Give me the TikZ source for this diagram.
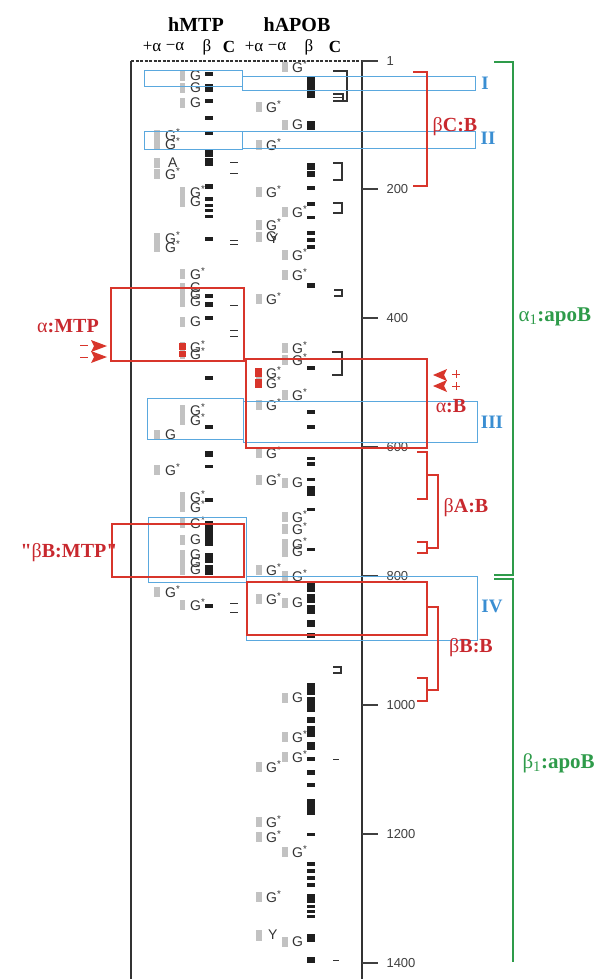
\documentclass[tikz,border=0pt]{standalone}
\usepackage{fontspec}
\setmainfont{Liberation Serif}
\setsansfont{Liberation Sans}
\newfontfamily\qserif[Ligatures=TeXOff]{Liberation Serif}
\definecolor{myred}{HTML}{D8352B}
\definecolor{redtxt}{HTML}{C8282E}
\definecolor{myblue}{HTML}{5AA8DE}
\definecolor{bluetxt}{HTML}{3A8ED2}
\definecolor{mygreen}{HTML}{2E9B4A}
\newcommand{\Gs}{G\textsuperscript{*}}
\newcommand{\sq}{{\qserif\bfseries "}}
\begin{document}
\begin{tikzpicture}[x=1pt,y=-1pt,
  glab/.style={font=\sffamily\fontsize{14}{14}\selectfont, anchor=west, inner sep=0pt, text=black!80},
  gbar/.style={fill=black!24},
  blk/.style={fill=black!88},
  cmark/.style={draw=black!80, line width=1.1pt},
  hdr/.style={font=\bfseries\fontsize{20}{20}\selectfont},
  subhdr/.style={font=\fontsize{17}{17}\selectfont},
  redlab/.style={font=\bfseries\fontsize{20}{20}\selectfont, text=redtxt},
  bluelab/.style={font=\bfseries\fontsize{19}{19}\selectfont, text=bluetxt},
  greenlab/.style={font=\bfseries\fontsize{21}{21}\selectfont, text=mygreen, anchor=west},
  ticklab/.style={font=\sffamily\fontsize{13}{13}\selectfont, anchor=west, text=black!75},
  frame/.style={draw=black!80, line width=1.3pt},
  tickline/.style={draw=black!75, line width=1.2pt},
  redbox/.style={draw=myred, line width=1.2pt},
  bluebox/.style={draw=myblue, line width=0.9pt},
  redbr/.style={draw=myred, line width=1.1pt},
  greenbr/.style={draw=mygreen, line width=2pt}
]
\useasboundingbox (0,0) rectangle (603,979);

% headers
\node[hdr] (hmtp) at (196,25) {hMTP};
\node[hdr] (hapob) at (297,25) {hAPOB};
\node[subhdr] (s1) at (152,47) {+α};
\node[subhdr] (s2) at (175,47) {−α};
\node[subhdr] (s3) at (207,47) {β};
\node[subhdr] (s4) at (229,47) {\bfseries C};
\node[subhdr] (s5) at (254,47) {+α};
\node[subhdr] (s6) at (277,47) {−α};
\node[subhdr] (s7) at (309,47) {β};
\node[subhdr] (s8) at (335,47) {\bfseries C};

% frame and axis
\draw[frame] (131,61) -- (131,979);
\draw[frame] (362,61) -- (362,979);
\draw[frame, dash pattern=on 3pt off 1.5pt] (131,61) -- (362,61);
\foreach \v/\yy in {1/61,200/189,400/318,600/447,800/576,1000/705,1200/834,1400/963}{
  \draw[tickline] (362,\yy) -- (378,\yy);
  \node[ticklab] (t\v) at (383,\yy) {\v};
}

% gray bars + G labels, hMTP right column
\foreach \yy/\t in {76/G,88/G,103/G,192/\Gs,202/G,274/\Gs,288/G,295/G,302/G,322/G,347/\Gs,354/\Gs,410/\Gs,420/\Gs,497/\Gs,507/\Gs,523/\Gs,540/G,555/G,563/G,570/G,605/\Gs}{
  \fill[gbar] (180,\yy-5) rectangle (185,\yy+5);
  \node[glab] (ma\yy) at (190,\yy) {\t};
}
% hMTP left column
\foreach \yy/\t in {135/\Gs,144/\Gs,174/\Gs,238/\Gs,247/\Gs,435/G,470/\Gs,592/\Gs}{
  \fill[gbar] (154,\yy-5) rectangle (160,\yy+5);
  \node[glab] (mb\yy) at (165,\yy) {\t};
}
\fill[gbar] (154,158) rectangle (160,168);
\node[glab] (mA) at (168,163) {A};
% hAPOB left column
\foreach \yy/\t in {107/\Gs,145/\Gs,192/\Gs,225/\Gs,237/G,299/\Gs,373/\Gs,383/\Gs,405/\Gs,453/\Gs,480/\Gs,570/\Gs,599/\Gs,767/\Gs,822/\Gs,837/\Gs,897/\Gs}{
  \fill[gbar] (256,\yy-5) rectangle (262,\yy+5);
  \node[glab] (aa\yy) at (266,\yy) {\t};
}
\node[glab] (aY1) at (269,239) {Y};
\fill[gbar] (256,930) rectangle (262,941);
\node[glab] (aY2) at (268,935) {Y};
% hAPOB right column
\foreach \yy/\t in {67/\Gs,125/G,212/\Gs,255/\Gs,275/\Gs,348/\Gs,360/\Gs,395/\Gs,483/G,517/\Gs,529/\Gs,544/\Gs,552/G,576/\Gs,603/G,698/G,737/\Gs,757/\Gs,852/\Gs,942/G}{
  \fill[gbar] (282,\yy-5) rectangle (288,\yy+5);
  \node[glab] (ab\yy) at (292,\yy) {\t};
}

% black marks hMTP beta
\foreach \a/\b in {72/76,84/92,99/103,116/120,131/135,149/157,158/166,184/189,197/201,204/207,209/212,215/218,237/241,294/298,302/307,316/320,376/380,425/429,451/457,465/468,498/502,521/546,553/563,565/575,604/608}{
  \fill[blk] (205,\a) rectangle (212.5,\b);
}
% hMTP C column
\foreach \yy in {162,173,240,244,305,330,336,582,603,612}{
  \draw[cmark, line width=0.9pt] (230,\yy) -- (238,\yy);
}
% black marks hAPOB beta
\foreach \a/\b in {77/98,121/130,163/170,171/177,186/190,202/206,216/219,231/235,238/242,245/249,283/288,366/370,410/414,425/429,457/460,462/466,478/481,486/496,508/511,548/551,583/592,594/603,605/614,620/627,633/638,683/695,697/712,717/723,726/737,742/750,757/761,770/775,783/787,799/815,833/836,862/866,869/873,876/880,883/887,894/903,905/908,910/913,915/918,934/942,957/963}{
  \fill[blk] (307,\a) rectangle (314.5,\b);
}
% hAPOB C column
\draw[cmark] (333,71) -- (347,71) -- (347,101) -- (333,101);
\draw[cmark] (333,94) -- (343,94) -- (343,101);
\draw[cmark] (333,97.5) -- (343,97.5);
\draw[cmark] (333,163) -- (342,163) -- (342,180) -- (333,180);
\draw[cmark] (333,203) -- (342,203) -- (342,213) -- (333,213);
\draw[cmark] (334,290) -- (342,290) -- (342,296) -- (334,296);
\draw[cmark] (332,352) -- (342,352) -- (342,375) -- (332,375);
\draw[cmark] (333,667) -- (341,667) -- (341,673) -- (333,673);
\draw[cmark, line width=0.9pt] (333,759) -- (339,759);
\draw[cmark, line width=0.9pt] (333,960) -- (339,960);

% red squares
\fill[myred] (179,343) rectangle (186,349.5);
\fill[myred] (179,350.5) rectangle (186,357);
\fill[myred] (255,368) rectangle (262,377);
\fill[myred] (255,378.5) rectangle (262,388);

% blue boxes
\draw[bluebox] (144,70) rectangle (242,86);
\draw[bluebox] (242,76) rectangle (475,90);
\draw[bluebox] (144,131) rectangle (242,149);
\draw[bluebox] (242,131) rectangle (475,148);
\draw[bluebox] (147,398) rectangle (243,439);
\draw[bluebox] (243,401) rectangle (477,442);
\draw[bluebox] (148,517) rectangle (246,582);
\draw[bluebox] (246,576) rectangle (477,640);
\node[bluelab] (lI) at (485,83) {I};
\node[bluelab] (lII) at (488,138) {II};
\node[bluelab] (lIII) at (492,422) {III};
\node[bluelab] (lIV) at (492,606) {IV};

% red boxes
\draw[redbox] (111,288) rectangle (244,361);
\draw[redbox] (246,359) rectangle (427,448);
\draw[redbox] (112,524) rectangle (244,577);
\draw[redbox] (247,582) rectangle (427,635);
\node[redlab] (lamtp) at (68,326) {{\mdseries α}:MTP};
\node[redlab] (lbbmtp) at (69,553) {\sq{\mdseries β}B:MTP\sq};
\node[redlab] (lab) at (451,406) {{\mdseries α}:B};
\node[redlab] (lbcb) at (455,127) {{\mdseries β}C:B};
\node[redlab] (lbab) at (466,508) {{\mdseries β}A:B};
\node[redlab] (lbbb) at (471,648) {{\mdseries β}B:B};

% red arrowheads
\fill[myred] (91,340) -- (107,346) -- (91,352) -- (94,346) -- cycle;
\fill[myred] (91,351) -- (107,357) -- (91,363) -- (94,357) -- cycle;
\draw[myred, line width=1pt] (80,345) -- (88,345);
\draw[myred, line width=1pt] (80,357) -- (88,357);
\fill[myred] (447,369) -- (433,375) -- (447,381) -- (444,375) -- cycle;
\fill[myred] (447,380) -- (433,386) -- (447,392) -- (444,386) -- cycle;
\draw[myred, line width=0.8pt] (452,374) -- (460,374) (456,370) -- (456,378);
\draw[myred, line width=0.8pt] (452,386) -- (460,386) (456,382) -- (456,390);

% red brackets
\draw[redbr] (413,72) -- (427,72) -- (427,186) -- (413,186);
\draw[redbr] (417,452) -- (427,452) -- (427,499) -- (417,499);
\draw[redbr] (417,542) -- (427,542) -- (427,553) -- (417,553);
\draw[redbr] (427,475) -- (438,475) -- (438,548) -- (427,548);
\draw[redbr] (427,607) -- (438,607) -- (438,690) -- (427,690);
\draw[redbr] (417,678) -- (427,678) -- (427,701) -- (417,701);

% green brackets
\draw[greenbr] (494,62) -- (513,62) -- (513,575) -- (494,575);
\draw[greenbr] (494,579) -- (513,579) -- (513,962);
\node[greenlab] (lalpha) at (515,317) {{\mdseries α\textsubscript{1}}:apoB};
\node[greenlab] (lbeta) at (519,763) {{\mdseries β\textsubscript{1}}:apoB};
\end{tikzpicture}
\end{document}
